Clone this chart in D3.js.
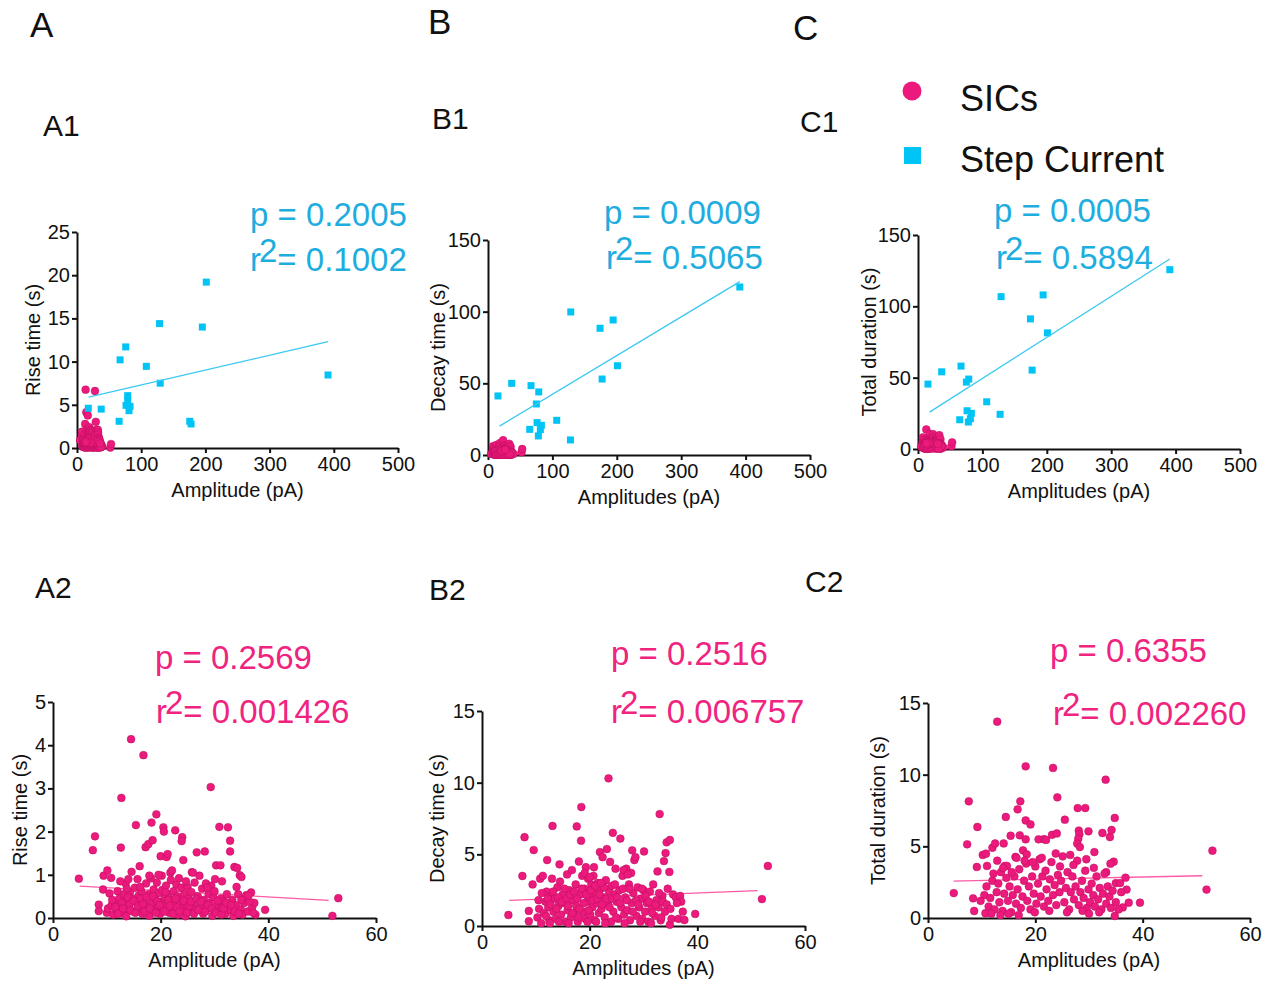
<!DOCTYPE html>
<html><head><meta charset="utf-8">
<script src="https://cdn.jsdelivr.net/npm/d3@7"></script>
<style>
body{margin:0;background:#fff}
svg{display:block}
text{font-family:"Liberation Sans",Arial,sans-serif}
</style>
</head><body>
<svg id="c" width="1271" height="981"></svg>
<script>
// ---------------- DATA ----------------
const xTicksUpper = [0,100,200,300,400,500];
const xTicksLower = [0,20,40,60];
const yTicksA1 = [0,5,10,15,20,25];
const yTicksB1 = [0,50,100,150];
const yTicksA2 = [0,1,2,3,4,5];
const yTicks15 = [0,5,10,15];

// Step current (blue squares)
const stepAmpA1 = [17.6,37.7,65.6,67.1,75.9,76.4,79,79,81,82.6,108,128.6,129.6,175.6,177.7,195.2,201.4,391];
const stepRise  = [4.6,4.5,3.09,10.2,11.7,4.94,6.06,5.56,4.32,4.82,9.45,14.4,7.5,3.09,2.78,14.0,19.2,8.45];
const stepAmpB1 = [15.5,36.8,66.8,78.8,75.1,128.5,174,194.3,201,177.2,391,64.8,76.2,82.9,81.3,78.2,106.7,128];
const stepDecay = [41.2,50,48.4,44,35.6,99.8,88.4,94.2,62.3,53,117.2,17.9,22.6,20.7,17.7,13.3,24.2,10.5];
const stepAmpC1 = [15.5,36.8,66.8,75.1,78.8,129,174.6,194.3,201,177.2,391,64.8,76.2,82.9,81.3,78.2,106.7,127.5];
const stepTotal = [45.5,54.1,58.1,46.9,49,106.8,91.2,108,81.4,55.3,125.7,20.5,26.8,25,21.2,18.9,33.1,24.3];

// SICs (pink circles): [amplitude pA, value s]
const sicRise = [
[4.8,0.91],[7.4,1.57],[7.8,1.89],[8.5,0.31],[8.5,0.16],[9.4,0.98],[9.3,0.66],[10.1,1.10],[10.8,0.93],[10.5,0.57],[10.0,0.12],[10.2,0.22],[10.9,0.30],[11.2,0.08],[11.5,0.35],[11.8,0.18],[12.0,0.62],[12.3,0.45],[12.6,1.63],[12.7,2.78],[12.4,0.27],[12.9,0.12],[13.2,0.55],[13.5,0.80],[13.3,0.38],[13.8,0.21],[13.6,0.04],[14.0,0.90],[14.3,0.60],[14.5,4.14],[14.6,1.07],[14.8,0.45],[14.2,0.30],[14.9,0.15],[15.4,2.15],[15.2,0.70],[15.6,0.35],[15.9,0.52],[16.1,1.20],[16.0,0.25],[16.4,0.62],[16.6,0.10],[16.8,3.77],[16.9,0.40],[17.2,1.64],[17.3,0.80],[17.5,0.28],[17.7,1.71],[17.8,0.55],[17.9,0.05],[18.3,2.21],[18.5,1.80],[18.2,0.92],[18.4,0.35],[18.7,0.66],[18.8,0.18],[19.2,2.40],[19.0,0.45],[19.3,0.82],[19.5,0.28],[19.7,0.58],[19.9,0.10],[20.0,1.43],[20.2,0.98],[20.1,0.38],[20.3,0.65],[20.5,2.10],[20.6,2.00],[20.4,0.22],[20.8,0.48],[21.0,0.75],[21.1,1.41],[21.3,1.48],[21.2,0.30],[21.5,0.55],[21.6,0.12],[21.8,1.05],[21.9,0.88],[22.0,0.40],[22.2,0.20],[22.4,0.62],[22.7,2.03],[22.6,0.32],[22.9,0.78],[23.1,0.50],[23.2,0.08],[23.4,0.92],[23.6,0.36],[23.8,0.70],[24.0,1.87],[23.9,1.78],[24.1,0.22],[24.2,1.34],[24.4,0.55],[24.6,0.04],[24.8,0.30],[25.0,0.72],[25.2,0.45],[25.5,0.15],[25.8,1.06],[25.7,0.60],[26.0,0.35],[26.3,0.82],[26.5,0.20],[26.7,1.52],[26.9,0.50],[27.2,0.98],[27.4,0.28],[27.7,0.68],[27.9,0.10],[28.2,1.54],[28.0,0.42],[28.4,0.80],[28.6,0.22],[28.9,0.55],[29.1,0.35],[29.3,3.03],[29.4,0.75],[29.6,0.05],[29.8,0.48],[30.0,0.62],[30.3,1.22],[30.5,0.30],[30.8,0.15],[31.1,1.22],[30.9,2.11],[31.2,0.45],[31.5,0.25],[31.8,0.38],[32.0,0.10],[32.3,0.55],[32.5,2.10],[32.9,1.79],[32.9,1.54],[32.7,0.30],[33.0,0.18],[33.3,0.42],[33.7,1.18],[33.5,0.05],[34.2,1.16],[34.0,0.30],[34.4,0.55],[34.7,0.99],[34.9,0.20],[35.2,0.08],[35.5,0.35],[35.9,0.53],[36.2,0.15],[36.8,0.59],[37.0,0.25],[37.4,0.35],[37.6,0.08],[39.4,0.19],[51.9,0.05],[53.0,0.46],[13.4,6.75],[28.0,6.6],
[11.0,0.42],[11.6,0.25],[12.1,0.10],[12.8,0.35],[13.0,0.22],[13.9,0.48],[14.4,0.18],[15.0,0.40],[15.3,0.12],[15.8,0.28],[16.3,0.45],[16.7,0.32],[17.0,0.15],[17.4,0.48],[18.0,0.22],[18.6,0.50],[19.1,0.12],[19.4,0.38],[19.8,0.30],[20.7,0.15],[21.4,0.42],[21.7,0.28],[22.3,0.10],[22.8,0.45],[23.0,0.25],[23.5,0.15],[24.3,0.40],[24.9,0.12],[25.3,0.28],[25.6,0.38],[26.2,0.10],[26.6,0.45],[27.0,0.18],[27.5,0.38],[28.3,0.15],[28.8,0.30],[29.5,0.22],[30.2,0.12],[30.6,0.40],[31.3,0.08],[31.7,0.22],[32.2,0.35],[33.1,0.30],[33.8,0.15],[34.5,0.10],[35.0,0.42],[36.5,0.38],[37.2,0.12],[12.5,0.85],[15.7,0.90],[19.6,1.00],[22.1,1.10],[26.0,1.05],[30.1,0.90],[35.0,0.95],[17.9,0.98],[24.7,0.85],[28.7,0.70],[31.4,0.85],[34.1,0.72],[36.3,0.52],[20.9,0.60],[16.2,0.72],[13.7,0.68]
];

const sicDecay = [
[4.9,0.77],[7.5,3.49],[7.9,6.2],[8.7,1.05],[8.7,0.33],[9.6,5.3],[9.4,2.9],[10.3,0.6],[10.6,1.2],[10.8,3.3],[11.0,0.2],[11.3,3.5],[11.5,0.9],[11.8,1.7],[12.1,4.6],[12.0,2.4],[12.3,1.3],[12.5,0.4],[12.8,2.1],[13.1,6.98],[13.0,3.3],[13.3,1.0],[13.5,1.9],[13.7,0.5],[14.0,2.7],[14.4,4.3],[14.2,1.4],[14.5,3.1],[14.7,0.8],[15.0,2.2],[15.2,1.6],[15.5,0.3],[15.8,3.6],[15.9,1.1],[16.2,2.5],[16.5,0.6],[16.7,3.9],[16.9,1.8],[17.2,0.9],[17.4,2.9],[17.6,6.95],[17.5,1.4],[17.8,0.3],[18.0,4.5],[18.2,2.2],[18.45,8.3],[18.4,5.95],[18.6,3.5],[18.8,1.0],[19.0,2.6],[19.3,4.1],[19.2,0.5],[19.5,1.7],[19.7,3.3],[19.9,2.0],[20.1,0.8],[20.3,2.9],[20.5,1.3],[20.7,3.5],[20.9,0.4],[21.1,2.3],[21.3,1.6],[21.5,3.0],[21.7,0.9],[21.9,5.16],[22.0,2.6],[22.2,1.2],[22.4,4.8],[22.6,2.0],[22.8,0.6],[23.0,3.2],[23.2,5.37],[23.5,10.3],[23.4,1.5],[23.6,2.4],[23.8,4.47],[24.0,0.3],[24.1,2.8],[24.3,6.5],[24.4,1.0],[24.6,2.2],[24.8,4.0],[25.0,1.7],[25.3,0.5],[25.5,2.5],[25.7,6.1],[25.9,1.3],[26.1,3.5],[26.4,0.8],[26.6,2.0],[26.8,4.0],[27.0,1.1],[27.3,2.9],[27.5,0.4],[27.9,5.28],[27.8,1.6],[28.1,2.3],[28.3,4.6],[28.5,4.8],[28.7,0.7],[28.9,2.7],[29.2,1.3],[29.5,1.9],[29.8,0.5],[30.1,5.2],[30.0,2.5],[30.3,1.0],[30.6,1.6],[30.9,0.3],[31.2,2.4],[31.5,1.2],[31.8,2.9],[32.1,0.7],[32.4,1.8],[32.6,3.81],[32.8,1.3],[33.0,7.81],[33.2,0.4],[33.5,2.1],[33.8,4.53],[34.1,5.09],[34.0,1.0],[34.3,5.84],[34.5,2.6],[34.9,6.0],[34.8,3.77],[34.9,0.09],[35.2,0.5],[35.5,2.2],[36.0,2.0],[36.5,0.5],[36.8,2.1],[37.0,1.7],[37.3,1.0],[37.6,0.42],[39.6,0.84],[52.0,1.88],[53.1,4.19],
[12.2,1.9],[12.7,1.5],[13.2,2.4],[13.8,1.2],[14.1,2.0],[14.8,1.7],[15.3,2.6],[15.7,1.9],[16.0,1.4],[16.4,2.2],[16.8,0.9],[17.1,2.4],[17.7,1.9],[18.1,1.2],[18.5,2.6],[18.9,1.6],[19.4,2.2],[19.8,1.1],[20.2,2.5],[20.6,1.8],[21.0,2.8],[21.4,1.9],[21.8,2.2],[22.3,1.5],[22.7,2.7],[23.1,1.9],[23.7,1.3],[24.2,1.9],[24.7,2.9],[25.1,2.0],[25.6,1.6],[26.2,2.6],[26.9,1.8],[27.4,2.6],[27.7,3.7],[28.0,1.0],[28.6,1.8],[29.0,1.5],[29.7,2.6],[30.4,2.1],[31.0,1.7],[31.6,0.9],[32.2,1.5],[32.9,2.3],[33.6,1.7],[34.3,1.5],[35.0,1.2],[36.2,1.6],[10.5,1.8],[11.1,2.3],[11.9,0.7],[12.6,0.2],[14.3,0.3],[16.1,0.2],[17.9,0.6],[19.6,0.3],[21.2,0.3],[22.9,0.2],[24.9,0.6],[26.5,0.2],[29.4,0.3],[31.4,0.2],[33.3,0.6],[20.8,4.1],[19.1,3.7],[20.0,3.4],[22.1,3.0],[26.3,3.9],[27.1,3.6]
];

const sicTotal = [
[4.8,1.74],[7.3,5.14],[7.6,8.14],[8.4,1.37],[8.6,0.49],[9.2,6.35],[9.1,3.56],[10.2,4.4],[10.8,4.49],[10.7,0.33],[11.0,3.63],[12.0,4.9],[12.5,5.2],[12.9,13.7],[14.1,5.2],[14.5,7.05],[14.3,3.63],[14.7,3.63],[15.4,5.74],[16.7,7.58],[17.2,8.14],[17.1,5.77],[18.2,10.58],[18.2,6.81],[19.1,6.53],[18.2,5.49],[17.7,4.72],[18.4,4.44],[16.3,4.26],[20.6,5.49],[21.6,5.5],[22.0,5.45],[23.3,10.47],[23.1,5.8],[24.0,5.9],[24.1,8.42],[25.5,6.86],[27.9,7.67],[29.3,7.67],[28.1,6.1],[28.2,5.84],[28.0,5.53],[27.8,5.19],[28.3,4.95],[29.9,6.05],[31.0,4.6],[33.1,9.65],[32.5,5.93],[33.9,5.65],[34.2,6.14],[34.8,6.98],[34.6,3.93],[34.0,3.79],[33.2,3.2],[35.0,2.44],[35.8,2.44],[36.8,2.81],[37.0,1.98],[36.3,0.74],[37.4,1.07],[39.5,1.07],[34.8,0.14],[51.9,1.98],[53.0,4.7],
[10.5,1.6],[10.9,2.2],[11.3,0.8],[11.6,1.4],[12.0,2.6],[12.2,3.1],[12.4,0.6],[12.8,1.8],[13.1,2.4],[13.3,1.1],[13.6,3.2],[13.9,0.5],[14.2,1.7],[14.6,2.8],[14.9,1.2],[15.2,2.2],[15.5,0.4],[15.8,1.6],[16.1,2.9],[16.4,1.0],[16.7,2.0],[17.0,3.4],[17.3,0.7],[17.6,1.5],[17.9,2.6],[18.3,3.8],[18.5,1.2],[18.8,2.2],[19.1,0.6],[19.4,2.9],[19.7,1.7],[20.0,3.6],[20.2,1.0],[20.5,2.4],[20.8,4.1],[21.0,1.5],[21.3,2.9],[21.6,0.8],[21.9,3.3],[22.1,2.0],[22.4,1.2],[22.7,2.7],[23.0,3.9],[23.3,1.6],[23.6,2.3],[23.9,0.9],[24.2,3.0],[24.5,1.8],[24.8,2.6],[25.1,4.3],[25.4,1.1],[25.7,2.1],[26.0,3.2],[26.3,0.6],[26.6,1.8],[26.9,2.9],[27.2,1.3],[27.5,2.2],[27.8,4.0],[28.1,0.9],[28.4,1.8],[28.7,2.6],[29.0,1.4],[29.3,3.3],[29.6,0.7],[29.9,2.0],[30.2,1.1],[30.5,2.4],[30.8,1.6],[31.1,0.8],[31.4,2.9],[31.7,1.3],[32.0,2.1],[32.3,0.6],[32.6,1.7],[32.9,3.1],[33.2,1.0],[33.5,2.2],[33.8,1.5],[34.1,0.7],[34.4,1.9],[35.0,1.1],[35.5,0.6],[36.0,1.8],[9.8,1.2],[11.8,0.3],[13.5,0.2],[15.0,0.3],[16.9,0.2],[19.9,0.4],[22.6,0.5],[25.9,0.4],[28.8,0.5],[30.0,0.3],[31.9,0.4],[18.0,4.0],[19.5,3.9],[21.2,4.2],[23.8,4.5],[24.6,3.6],[26.5,4.4],[27.1,3.7],[29.5,4.1],[30.9,3.5],[14.0,3.5],[15.6,3.2],[16.5,4.2],[12.9,4.0]
];

// Linear fits: [intercept, slope, xStart, xEnd]
const fitA1 = [5.59, 0.01716, 18, 391];
const fitB1 = [15.3, 0.2702, 18, 391];
const fitC1 = [20.7, 0.2877, 18, 391];
const fitA2 = [0.775, -0.00714, 4.96, 51.2];
const fitB2 = [1.715, 0.01475, 5.08, 51.2];
const fitC2 = [2.54, 0.008, 4.78, 51.1];

const statsP  = ["0.2005","0.0009","0.0005","0.2569","0.2516","0.6355"];
const statsR2 = ["0.1002","0.5065","0.5894","0.001426","0.006757","0.002260"];

// ---------------- DRAW ----------------
const svg = d3.select("#c");
const PINK = "#ec1a7c", PINK_STROKE = "#b80f5c", BLUE = "#00c4f5";
const BLUE_TEXT = "#1eaddf", PINK_TEXT = "#f0237f";
const BLUE_LINE = "#3ac8f2", PINK_LINE = "#ff5aa6";

function panel(o) {
  const x = d3.scaleLinear().domain(o.xd).range([o.px0, o.px1]);
  const y = d3.scaleLinear().domain(o.yd).range([o.py0, o.py1]);
  const g = svg.append("g");

  const xa = g.append("g").attr("transform", `translate(0,${o.py0})`)
    .call(d3.axisBottom(x).tickValues(o.xt).tickSize(5).tickPadding(4).tickSizeOuter(0).tickFormat(d3.format("d")));
  const ya = g.append("g").attr("transform", `translate(${o.px0},0)`)
    .call(d3.axisLeft(y).tickValues(o.yt).tickSize(5).tickPadding(2).tickSizeOuter(0).tickFormat(d3.format("d")));
  [xa, ya].forEach(a => {
    a.select(".domain").attr("stroke", "#111").attr("stroke-width", 2);
    a.selectAll(".tick line").attr("stroke", "#111").attr("stroke-width", 2);
    a.selectAll(".tick text").attr("fill", "#111").style("font-size", "20px")
      .style("font-family", '"Liberation Sans",Arial,sans-serif');
  });

  // titles
  g.append("text").attr("x", (o.px0 + o.px1) / 2).attr("y", o.py0 + 49)
    .attr("text-anchor", "middle").style("font-size", "20px").attr("fill", "#111").text(o.xl);
  g.append("text").attr("transform", `translate(${o.px0 - o.yOff},${(o.py0 + o.py1) / 2}) rotate(-90)`)
    .attr("text-anchor", "middle").attr("dy", "0.35em").style("font-size", "20px").attr("fill", "#111").text(o.yl);

  const yMax = o.yd[1];
  const fitLine = (f, col) => {
    const xs = [f[2], f[3]];
    g.append("path").datum(xs)
      .attr("d", d3.line().x(d => x(d)).y(d => y(f[0] + f[1] * d)))
      .attr("stroke", col).attr("stroke-width", 1.3).attr("fill", "none");
  };

  if (o.lower) fitLine(o.fit, PINK_LINE);

  // pink circles
  g.append("g").selectAll("circle").data(o.sic.filter(d => d[1] <= yMax && d[1] >= 0)).join("circle")
    .attr("cx", d => x(d[0])).attr("cy", d => y(d[1])).attr("r", 3.9)
    .attr("fill", PINK).attr("stroke", PINK_STROKE).attr("stroke-width", 0.5);

  if (!o.lower) {
    const sq = 7;
    g.append("g").selectAll("rect").data(o.stepX.map((v, i) => [v, o.stepY[i]])).join("rect")
      .attr("x", d => x(d[0]) - sq / 2).attr("y", d => y(d[1]) - sq / 2)
      .attr("width", sq).attr("height", sq).attr("fill", BLUE);
    fitLine(o.fit, BLUE_LINE);
  }

  // stats
  const col = o.lower ? PINK_TEXT : BLUE_TEXT;
  g.append("text").attr("x", o.sx).attr("y", o.sy1).style("font-size", "33px").attr("fill", col)
    .text("p = " + o.p);
  const t = g.append("text").attr("x", o.sx + o.rdx).attr("y", o.sy2).style("font-size", "33px").attr("fill", col);
  t.append("tspan").text("r");
  t.append("tspan").attr("dx", -2).attr("dy", -9).text("2");
  t.append("tspan").attr("dy", 9).text("= " + o.r2);
}

panel({xd:[0,500], yd:[0,25], px0:77, px1:398, py0:448, py1:232, xt:xTicksUpper, yt:yTicksA1,
  xl:"Amplitude (pA)", yl:"Rise time (s)", yOff:44, sic:sicRise, stepX:stepAmpA1, stepY:stepRise,
  fit:fitA1, p:statsP[0], r2:statsR2[0], sx:250, sy1:226, sy2:271, rdx:0});
panel({xd:[0,500], yd:[0,150], px0:488, px1:810, py0:455, py1:240, xt:xTicksUpper, yt:yTicksB1,
  xl:"Amplitudes (pA)", yl:"Decay time (s)", yOff:50, sic:sicDecay, stepX:stepAmpB1, stepY:stepDecay,
  fit:fitB1, p:statsP[1], r2:statsR2[1], sx:604, sy1:224, sy2:269, rdx:2});
panel({xd:[0,500], yd:[0,150], px0:918, px1:1240, py0:449, py1:235, xt:xTicksUpper, yt:yTicksB1,
  xl:"Amplitudes (pA)", yl:"Total duration (s)", yOff:49, sic:sicTotal, stepX:stepAmpC1, stepY:stepTotal,
  fit:fitC1, p:statsP[2], r2:statsR2[2], sx:994, sy1:222, sy2:269, rdx:2});
panel({lower:true, xd:[0,60], yd:[0,5], px0:53, px1:376, py0:918, py1:702, xt:xTicksLower, yt:yTicksA2,
  xl:"Amplitude (pA)", yl:"Rise time (s)", yOff:33, sic:sicRise,
  fit:fitA2, p:statsP[3], r2:statsR2[3], sx:155, sy1:669, sy2:723, rdx:1});
panel({lower:true, xd:[0,60], yd:[0,15], px0:482, px1:805, py0:926, py1:711, xt:xTicksLower, yt:yTicks15,
  xl:"Amplitudes (pA)", yl:"Decay time (s)", yOff:45, sic:sicDecay,
  fit:fitB2, p:statsP[4], r2:statsR2[4], sx:611, sy1:665, sy2:723, rdx:0});
panel({lower:true, xd:[0,60], yd:[0,15], px0:928, px1:1250, py0:918, py1:703, xt:xTicksLower, yt:yTicks15,
  xl:"Amplitudes (pA)", yl:"Total duration (s)", yOff:50, sic:sicTotal,
  fit:fitC2, p:statsP[5], r2:statsR2[5], sx:1050, sy1:662, sy2:725, rdx:3});

// panel labels
const bigLabels = [["A",30,37],["B",428,34],["C",793,40]];
bigLabels.forEach(l => svg.append("text").attr("x", l[1]).attr("y", l[2]).style("font-size", "35px").attr("fill", "#111").text(l[0]));
const subLabels = [["A1",43,136],["B1",432,129],["C1",800,132],["A2",35,598],["B2",429,600],["C2",805,592]];
subLabels.forEach(l => svg.append("text").attr("x", l[1]).attr("y", l[2]).style("font-size", "30px").attr("fill", "#111").text(l[0]));

// legend
svg.append("circle").attr("cx", 912).attr("cy", 91).attr("r", 9.5).attr("fill", PINK);
svg.append("rect").attr("x", 904).attr("y", 147).attr("width", 17).attr("height", 17).attr("fill", BLUE);
svg.append("text").attr("x", 960).attr("y", 111).style("font-size", "36px").attr("fill", "#111").text("SICs");
svg.append("text").attr("x", 960).attr("y", 172).style("font-size", "36px").attr("fill", "#111").text("Step Current");
</script>
</body></html>
